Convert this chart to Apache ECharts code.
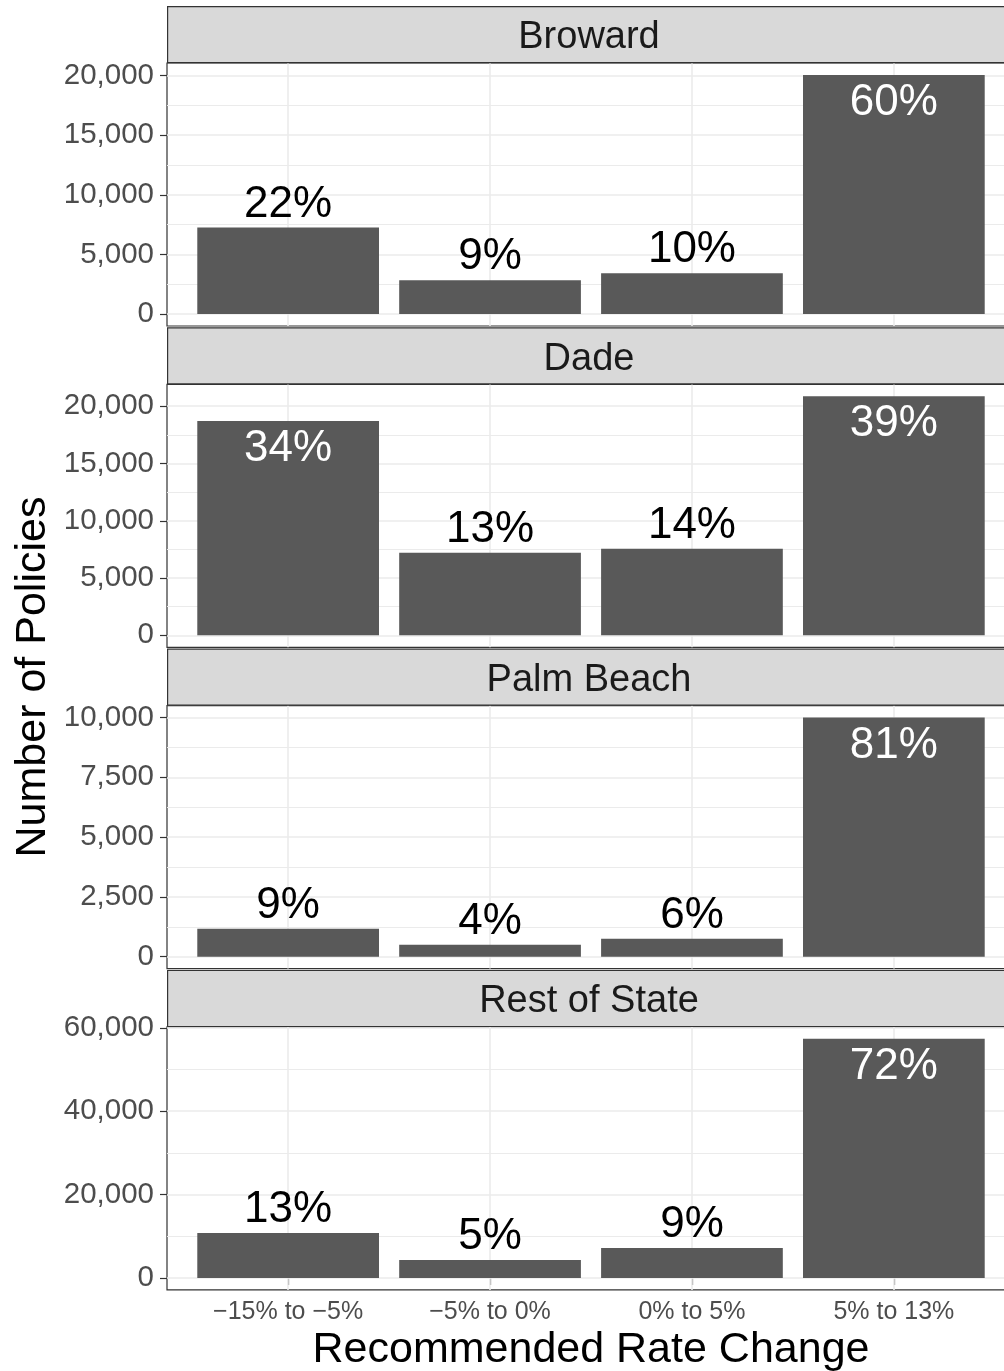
<!DOCTYPE html>
<html>
<head>
<meta charset="utf-8">
<script src="https://cdn.jsdelivr.net/npm/echarts@6/dist/echarts.min.js"></script>
<style>
  html, body { margin: 0; padding: 0; background: #fff; }
  #main { width: 1004px; height: 1371px; }
</style>
</head>
<body>
<div id="main"></div>
<script>
  // categories on the x axis (shared by all panels)
  const categories = ['\u221215% to \u22125%', '\u22125% to 0%', '0% to 5%', '5% to 13%']
  const panelNames = ['Broward', 'Dade', 'Palm Beach', 'Rest of State']

  // number of policies per panel
  const browardCounts = [7250, 2830, 3420, 20050]
  const dadeCounts = [18700, 7220, 7560, 20870]
  const palmBeachCounts = [1170, 500, 750, 10000]
  const restCounts = [10760, 4300, 7170, 57370]

  // share labels printed on the bars
  const browardPct = ['22%', '9%', '10%', '60%']
  const dadePct = ['34%', '13%', '14%', '39%']
  const palmBeachPct = ['9%', '4%', '6%', '81%']
  const restPct = ['13%', '5%', '9%', '72%']

  // y tick labels per panel
  const browardTicks = [0, 5000, 10000, 15000, 20000]
  const dadeTicks = [0, 5000, 10000, 15000, 20000]
  const palmBeachTicks = [0, 2500, 5000, 7500, 10000]
  const restTicks = [0, 20000, 40000, 60000]

  const counts = [browardCounts, dadeCounts, palmBeachCounts, restCounts]
  const pcts = [browardPct, dadePct, palmBeachPct, restPct]
  const ticks = [browardTicks, dadeTicks, palmBeachTicks, restTicks]

  const FONT = '"Liberation Sans", Arial, sans-serif'
  const gridLeft = 167
  const gridW = 848
  const stripH = 56
  const plotH = 263
  const step = 321.3
  const firstTop = 6

  const chart = echarts.init(document.getElementById('main'))

  const grids = []
  const xAxes = []
  const yAxes = []
  const series = []
  const graphics = []

  const xCenters = categories.map((c, i) => i + 1)

  for (let p = 0; p < 4; p++) {
    const top = firstTop + p * step
    const last = p === 3
    const maxV = Math.max(...counts[p])
    const tk = ticks[p]
    const minor = []
    for (let k = 0; k < tk.length - 1; k++) minor.push((tk[k] + tk[k + 1]) / 2)

    grids.push({
      left: gridLeft, top: top + stripH + 1, width: gridW, height: plotH,
      outerBoundsMode: 'none', containLabel: false,
      show: true, backgroundColor: '#fff', borderColor: '#333333', borderWidth: 1.2, z: 0
    })

    xAxes.push({
      type: 'value', gridIndex: p, min: 0.4, max: 4.6,
      axisLine: { show: false },
      splitLine: { show: false },
      axisTick: { show: last, length: 7, lineStyle: { color: '#333333', width: 1.2 }, customValues: xCenters },
      axisLabel: {
        show: last, customValues: xCenters, margin: 10,
        color: '#4D4D4D', fontSize: 25, fontFamily: FONT,
        formatter: v => categories[Math.round(v) - 1]
      },
      name: last ? 'Recommended Rate Change' : '',
      nameLocation: 'middle', nameGap: 39,
      nameTextStyle: { color: '#000', fontSize: 43, fontFamily: FONT }
    })

    yAxes.push({
      type: 'value', gridIndex: p, min: -0.05 * maxV, max: 1.05 * maxV,
      axisLine: { show: false },
      splitLine: { show: false },
      axisTick: { show: true, length: 7, lineStyle: { color: '#333333', width: 1.2 }, customValues: tk },
      axisLabel: {
        customValues: tk, margin: 13,
        color: '#4D4D4D', fontSize: 29.5, fontFamily: FONT,
        formatter: v => Math.round(v).toLocaleString('en-US')
      }
    })

    // background grid lines
    const gl = []
    minor.forEach(v => gl.push({ yAxis: v, lineStyle: { color: '#EBEBEB', width: 1, type: 'solid' } }))
    tk.forEach(v => gl.push({ yAxis: v, lineStyle: { color: '#EBEBEB', width: 1.6, type: 'solid' } }))
    xCenters.forEach(v => gl.push({ xAxis: v, lineStyle: { color: '#EBEBEB', width: 1.6, type: 'solid' } }))
    series.push({
      type: 'line', xAxisIndex: p, yAxisIndex: p, data: [], z: 1, silent: true,
      markLine: { silent: true, z: 1, symbol: ['none', 'none'], label: { show: false }, animation: false, data: gl }
    })

    series.push({
      type: 'bar', xAxisIndex: p, yAxisIndex: p, z: 3,
      barWidth: gridW / 4.2 * 0.9,
      itemStyle: { color: '#595959' },
      data: counts[p].map((v, i) => {
        const inside = v >= 0.75 * maxV
        return {
          value: [i + 1, v],
          label: {
            show: true,
            formatter: pcts[p][i],
            position: inside ? 'insideTop' : 'top',
            distance: inside ? 6 : 1,
            color: inside ? '#fff' : '#000',
            fontSize: 44, fontFamily: FONT
          }
        }
      })
    })

    // facet strip
    graphics.push({
      type: 'rect', left: gridLeft, top: top,
      shape: { width: gridW, height: stripH },
      style: { fill: '#D9D9D9', stroke: '#333333', lineWidth: 1.2 }, z: 10
    })
    graphics.push({
      type: 'text', x: gridLeft + gridW / 2 - 2, y: top + stripH / 2 + 4,
      style: { text: panelNames[p], fill: '#1A1A1A', font: '38px ' + FONT, align: 'center', verticalAlign: 'middle' },
      z: 11
    })
  }

  graphics.push({
    type: 'text', x: 33, y: 677, rotation: Math.PI / 2,
    style: { text: 'Number of Policies', fill: '#000', font: '43px ' + FONT, align: 'center', verticalAlign: 'middle' },
    z: 11
  })

  chart.setOption({
    animation: false,
    grid: grids,
    xAxis: xAxes,
    yAxis: yAxes,
    series: series,
    graphic: graphics
  })
</script>
</body>
</html>
